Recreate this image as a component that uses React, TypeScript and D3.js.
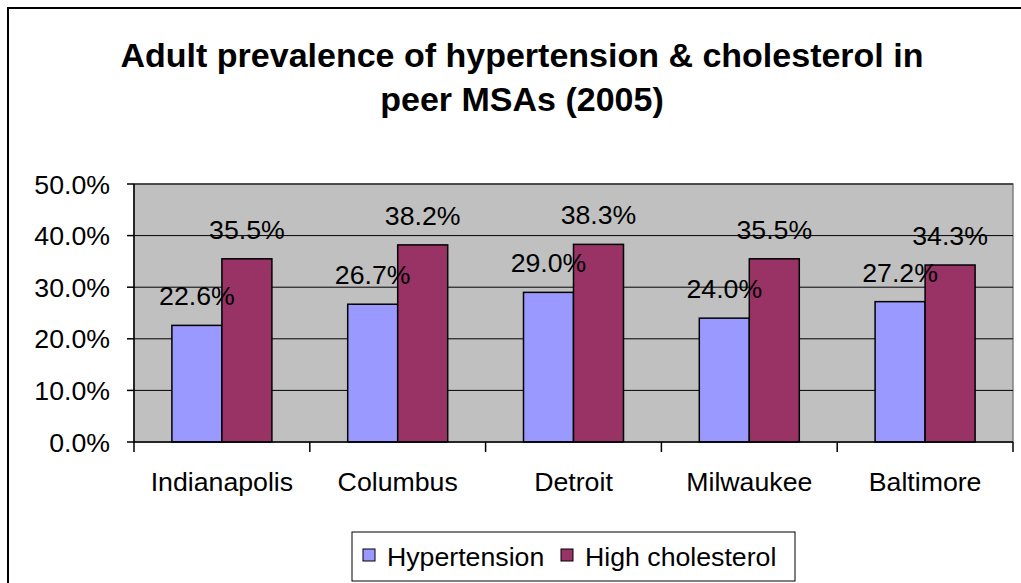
import React from "react";
import * as d3 from "d3";

// chart values
const cities = ["Indianapolis", "Columbus", "Detroit", "Milwaukee", "Baltimore"];
const hypertension = [22.6, 26.7, 29.0, 24.0, 27.2];
const cholesterol = [35.5, 38.2, 38.3, 35.5, 34.3];
const seriesNames = ["Hypertension", "High cholesterol"];
const seriesColors = ["#9999FF", "#993366"];
const yTicks = [0, 10, 20, 30, 40, 50];
const titleLines = [
  "Adult prevalence of hypertension & cholesterol in",
  "peer MSAs (2005)",
];

const W = 1021;
const H = 583;
const plot = { left: 134, right: 1013, top: 184, bottom: 442 };
const font = "Arial, 'Liberation Sans', sans-serif";

const App = () => {
  const x0 = d3
    .scaleBand()
    .domain(cities)
    .range([plot.left, plot.right])
    .paddingInner(0)
    .paddingOuter(0);
  // two bars per category, gap of ~75% of a bar on each side
  const x1 = d3
    .scaleBand()
    .domain(seriesNames)
    .range([0, x0.bandwidth()])
    .paddingInner(0)
    .paddingOuter(0.758);
  const y = d3.scaleLinear().domain([0, 50]).range([plot.bottom, plot.top]);

  const rows = cities.map((c, i) => ({
    city: c,
    values: [hypertension[i], cholesterol[i]],
  }));
  const fmt = (v) => v.toFixed(1) + "%";

  return (
    <svg
      width={W}
      height={H}
      style={{ position: "absolute", left: 0, top: 0, background: "#fff" }}
    >
      {/* outer chart border, runs off the right and bottom */}
      <rect x={8} y={8} width={1200} height={800} fill="#fff" stroke="#000" strokeWidth={2} />

      {/* title */}
      {titleLines.map((t, i) => (
        <text
          key={t}
          x={522}
          y={67 + i * 44}
          textAnchor="middle"
          fontFamily={font}
          fontWeight="bold"
          fontSize={34}
        >
          {t}
        </text>
      ))}

      {/* plot area */}
      <rect
        x={plot.left}
        y={plot.top}
        width={plot.right - plot.left}
        height={plot.bottom - plot.top}
        fill="#C0C0C0"
        stroke="#808080"
        strokeWidth={1.5}
      />
      {yTicks.slice(1).map((t) => (
        <line
          key={t}
          x1={plot.left}
          x2={plot.right}
          y1={y(t)}
          y2={y(t)}
          stroke="#000"
          strokeWidth={1}
        />
      ))}

      {/* bars */}
      {rows.map((r) =>
        r.values.map((v, j) => (
          <rect
            key={r.city + j}
            x={x0(r.city) + x1(seriesNames[j])}
            y={y(v)}
            width={x1.bandwidth()}
            height={y(0) - y(v)}
            fill={seriesColors[j]}
            stroke="#000"
            strokeWidth={1.5}
          />
        ))
      )}

      {/* y axis */}
      <line x1={plot.left} x2={plot.left} y1={plot.top} y2={plot.bottom} stroke="#000" strokeWidth={1.5} />
      {yTicks.map((t) => (
        <g key={t}>
          <line x1={plot.left - 7} x2={plot.left} y1={y(t)} y2={y(t)} stroke="#000" strokeWidth={1.5} />
          <text
            x={110}
            y={y(t)}
            dy="0.36em"
            textAnchor="end"
            fontFamily={font}
            fontSize={26.7}
          >
            {fmt(t)}
          </text>
        </g>
      ))}

      {/* x axis */}
      <line x1={plot.left} x2={plot.right} y1={plot.bottom} y2={plot.bottom} stroke="#000" strokeWidth={1.5} />
      {cities.concat([""]).map((c, i) => {
        const xx = i < cities.length ? x0(c) : plot.right;
        return (
          <line key={"t" + i} x1={xx} x2={xx} y1={plot.bottom} y2={plot.bottom + 10} stroke="#000" strokeWidth={1.5} />
        );
      })}
      {cities.map((c) => (
        <text
          key={c}
          x={x0(c) + x0.bandwidth() / 2}
          y={491}
          textAnchor="middle"
          fontFamily={font}
          fontSize={26.7}
        >
          {c}
        </text>
      ))}

      {/* data labels */}
      {rows.map((r) =>
        r.values.map((v, j) => (
          <text
            key={"l" + r.city + j}
            x={x0(r.city) + x1(seriesNames[j]) + x1.bandwidth() / 2}
            y={y(v) - 20}
            textAnchor="middle"
            fontFamily={font}
            fontSize={26.7}
          >
            {fmt(v)}
          </text>
        ))
      )}

      {/* legend */}
      <rect x={352} y={532} width={443} height={49} fill="#fff" stroke="#000" strokeWidth={1} />
      {seriesNames.map((s, i) => {
        const lx = i === 0 ? 363 : 561;
        return (
          <g key={s}>
            <rect x={lx} y={549} width={12} height={12} fill={seriesColors[i]} stroke="#000" strokeWidth={1} />
            <text x={lx + 24} y={566} fontFamily={font} fontSize={26.7}>
              {s}
            </text>
          </g>
        );
      })}
    </svg>
  );
};

export default App;
